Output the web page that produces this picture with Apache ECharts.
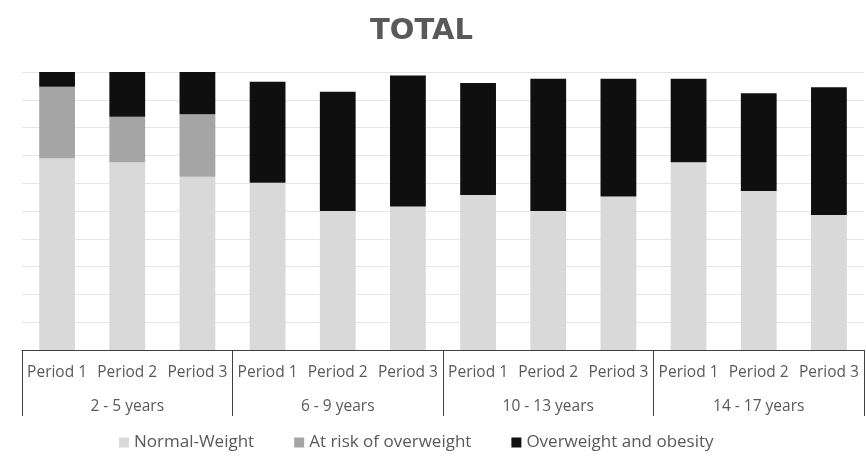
<!DOCTYPE html>
<html>
<head>
<meta charset="utf-8">
<script src="https://cdn.jsdelivr.net/npm/echarts@6/dist/echarts.min.js"></script>
<style>
  html, body { margin: 0; padding: 0; background: #fff; }
  #chart { width: 866px; height: 462px; }
</style>
</head>
<body>
<div id="chart"></div>
<script>
// Periods within each age group, and the age groups themselves
const periods = ['Period 1', 'Period 2', 'Period 3',
                 'Period 1', 'Period 2', 'Period 3',
                 'Period 1', 'Period 2', 'Period 3',
                 'Period 1', 'Period 2', 'Period 3'];
const ageGroups = ['2 - 5 years', '6 - 9 years', '10 - 13 years', '14 - 17 years'];

// Percentages per weight status (stacked)
const normalWeight = [69.0, 67.5, 62.3, 60.2, 50.0, 51.6, 55.8, 50.0, 55.2, 67.5, 57.2, 48.6];
const atRisk       = [25.7, 16.4, 22.5, 0, 0, 0, 0, 0, 0, 0, 0, 0];
const overweight   = [5.3, 16.1, 15.2, 36.3, 42.9, 47.1, 40.2, 47.6, 42.4, 30.1, 35.2, 45.9];

const textColor = '#595959';
const font = 'Open Sans';

const chart = echarts.init(document.getElementById('chart'), null, { renderer: 'canvas' });

function barSeries(name, data, color) {
  return {
    name: name,
    type: 'bar',
    stack: 'total',
    data: data,
    barCategoryGap: '49%',
    itemStyle: { color: color },
    emphasis: { disabled: true }
  };
}

chart.setOption({
  animation: false,
  title: {
    text: 'TOTAL',
    left: 365,
    top: 12,
    textStyle: { fontFamily: 'DejaVu Sans', fontSize: 29, fontWeight: 'bold', color: textColor }
  },
  legend: {
    bottom: 6,
    left: 114,
    itemWidth: 10,
    itemHeight: 10,
    itemGap: 40,
    icon: 'rect',
    textStyle: { fontFamily: font, fontSize: 17, color: textColor },
    data: ['Normal-Weight', 'At risk of overweight', 'Overweight and obesity']
  },
  grid: { left: 22, right: 2, top: 72, bottom: 112 },
  xAxis: [
    {
      type: 'category',
      data: periods,
      position: 'bottom',
      axisLine: { show: true, lineStyle: { color: '#404040', width: 1 } },
      axisTick: { show: false },
      axisLabel: { interval: 0, margin: 15, fontFamily: font, fontSize: 15.5, color: textColor }
    },
    {
      type: 'category',
      data: ageGroups,
      position: 'bottom',
      axisLine: { show: false },
      axisTick: { show: true, length: 66, lineStyle: { color: '#404040', width: 1 } },
      axisLabel: { interval: 0, margin: 49, fontFamily: font, fontSize: 15.5, color: textColor }
    }
  ],
  yAxis: {
    type: 'value',
    min: 0,
    max: 100,
    interval: 10,
    axisLine: { show: false },
    axisTick: { show: false },
    axisLabel: { show: false },
    splitLine: { lineStyle: { color: '#e6e6e6', width: 1 } }
  },
  series: [
    barSeries('Normal-Weight', normalWeight, '#d9d9d9'),
    barSeries('At risk of overweight', atRisk, '#a5a5a5'),
    barSeries('Overweight and obesity', overweight, '#0f0f0f')
  ]
});
</script>
</body>
</html>
